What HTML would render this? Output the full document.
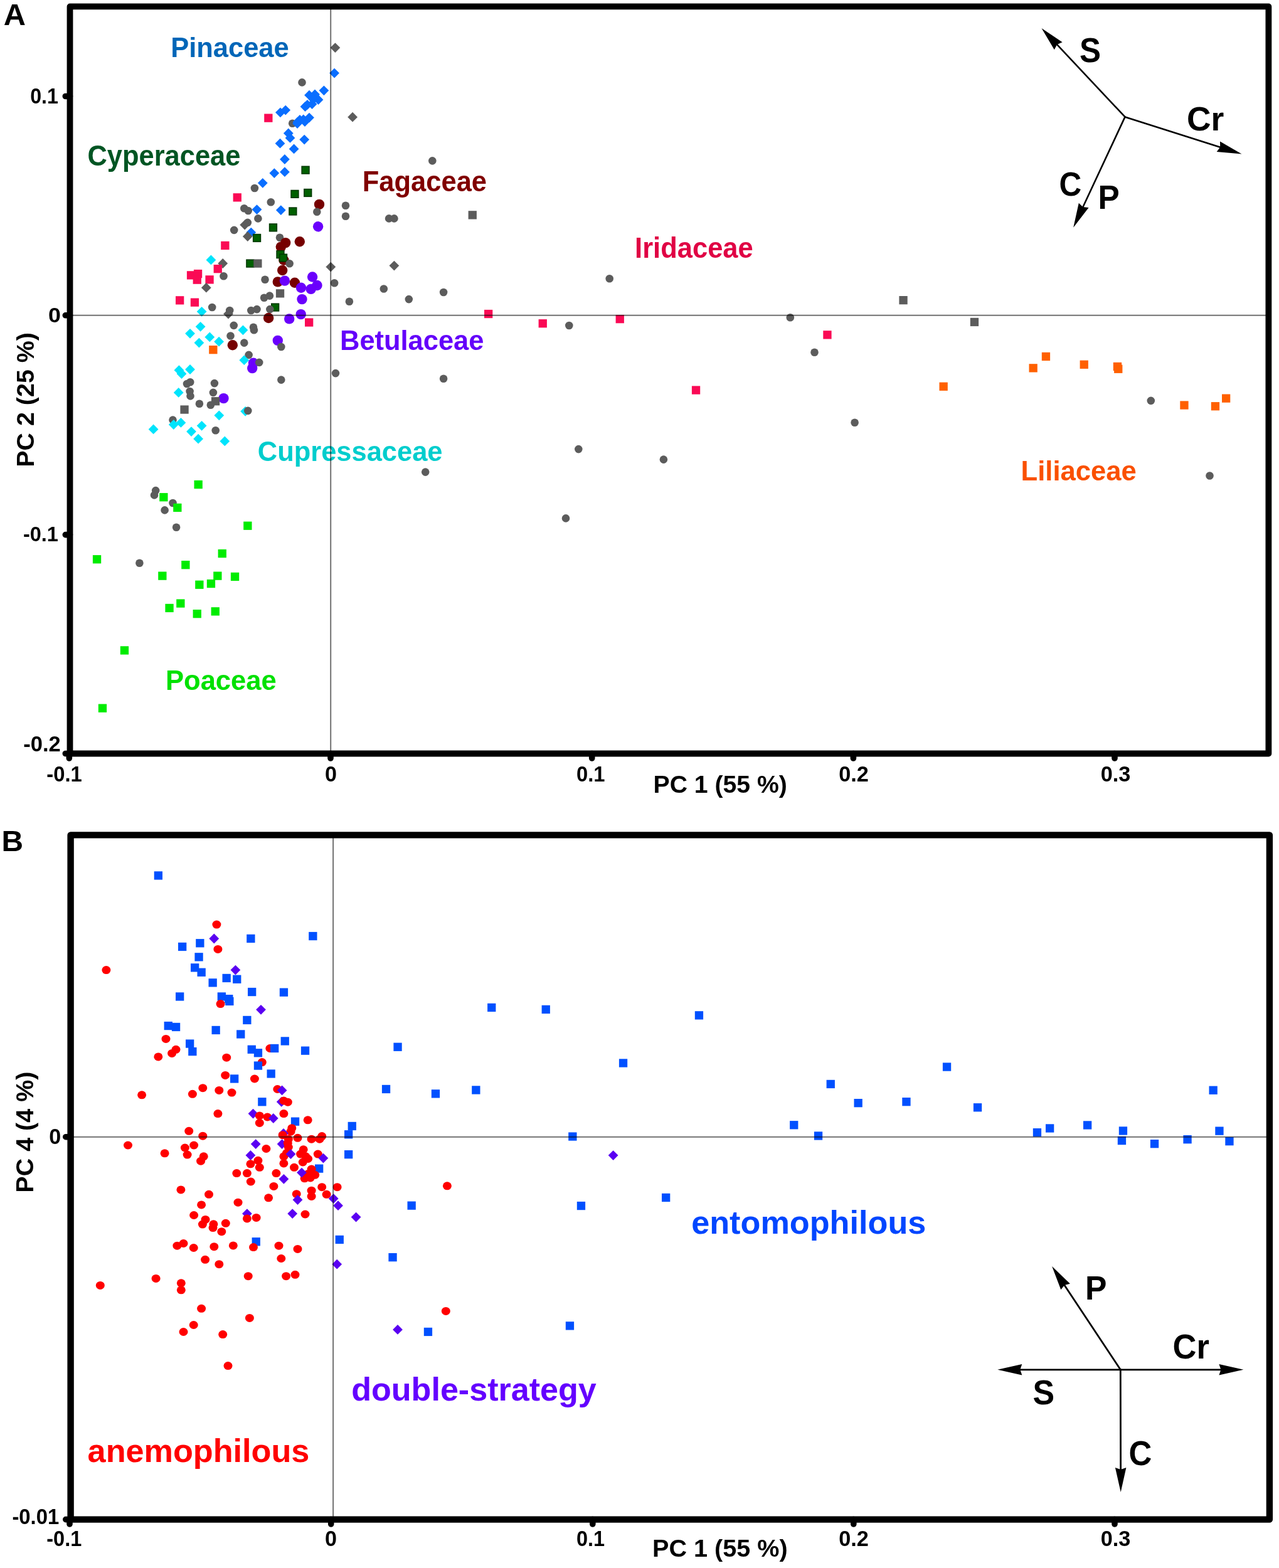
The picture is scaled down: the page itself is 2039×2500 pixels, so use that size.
<!DOCTYPE html>
<html><head><meta charset="utf-8"><title>PCA figure</title>
<style>html,body{margin:0;padding:0;background:#fff;}svg{display:block;}
text{font-family:"Liberation Sans",Arial,sans-serif;font-weight:bold;}</style></head>
<body><svg width="2039" height="2500" viewBox="0 0 2039 2500">
<rect width="2039" height="2500" fill="#fff"/>
<text transform="translate(5.7,39.6) scale(1.0137,1)" font-size="48.15" fill="#000">A</text>
<text transform="translate(2.6,1357.0) scale(1.0157,1)" font-size="47.13" fill="#000">B</text>
<text transform="translate(272.3,90.8) scale(0.9667,1)" font-size="44.95" fill="#0066b8">Pinaceae</text>
<text transform="translate(139.5,263.9) scale(0.9529,1)" font-size="45.59" fill="#005523">Cyperaceae</text>
<text transform="translate(577.8,305.3) scale(0.9494,1)" font-size="45.82" fill="#800000">Fagaceae</text>
<text transform="translate(1012.1,411.2) scale(0.9554,1)" font-size="45.53" fill="#e00044">Iridaceae</text>
<text transform="translate(542.1,557.6) scale(0.9598,1)" font-size="45.24" fill="#6400fa">Betulaceae</text>
<text transform="translate(410.8,735.2) scale(0.9653,1)" font-size="45.02" fill="#00cdcd">Cupressaceae</text>
<text transform="translate(1627.5,765.9) scale(0.9677,1)" font-size="45.09" fill="#fa5000">Liliaceae</text>
<text transform="translate(264.0,1099.6) scale(0.9692,1)" font-size="44.95" fill="#00e100">Poaceae</text>
<text transform="translate(1102.2,1966.5) scale(1.0261,1)" font-size="50.90" fill="#0046ff">entomophilous</text>
<text transform="translate(560.2,2233.2) scale(1.0070,1)" font-size="51.72" fill="#6400ff">double-strategy</text>
<text transform="translate(139.6,2331.0) scale(1.0094,1)" font-size="51.72" fill="#ff0000">anemophilous</text>
<text transform="translate(1721.0,99.0) scale(0.9260,1)" font-size="55.12" fill="#000">S</text>
<text transform="translate(1891.9,208.1) scale(0.9793,1)" font-size="54.56" fill="#000">Cr</text>
<text transform="translate(1688.5,312.3) scale(0.9200,1)" font-size="53.85" fill="#000">C</text>
<text transform="translate(1750.5,333.2) scale(0.9641,1)" font-size="53.24" fill="#000">P</text>
<text transform="translate(1730.0,2071.5) scale(0.9551,1)" font-size="54.11" fill="#000">P</text>
<text transform="translate(1869.6,2165.9) scale(0.9448,1)" font-size="55.55" fill="#000">Cr</text>
<text transform="translate(1646.4,2238.9) scale(0.9436,1)" font-size="54.98" fill="#000">S</text>
<text transform="translate(1799.6,2336.2) scale(0.9200,1)" font-size="55.41" fill="#000">C</text>
<text x="1041.5" y="1263.5" font-size="39.19" fill="#000">PC 1 (55 %)</text>
<text x="1040.1" y="2482.4" font-size="39.59" fill="#000">PC 1 (55 %)</text>
<text transform="translate(53.8,744.7) rotate(-90)" font-size="39.42" fill="#000">PC 2 (25 %)</text>
<text transform="translate(52.9,1901.7) rotate(-90)" font-size="39.50" fill="#000">PC 4 (4 %)</text>
<text transform="translate(48.2,164.7) scale(0.9280,1)" font-size="34.63" fill="#000">0.1</text>
<text transform="translate(77.1,513.8) scale(1.0775,1)" font-size="33.22" fill="#000">0</text>
<text transform="translate(36.9,862.7) scale(0.9583,1)" font-size="33.92" fill="#000">-0.1</text>
<text x="37.3" y="1198.3" font-size="34.49" fill="#000">-0.2</text>
<text transform="translate(74.3,1246.2) scale(0.9200,1)" font-size="35.62" fill="#000">-0.1</text>
<text transform="translate(74.3,2464.9) scale(0.9200,1)" font-size="35.34" fill="#000">-0.1</text>
<text transform="translate(518.1,1246.2) scale(0.9575,1)" font-size="35.62" fill="#000">0</text>
<text transform="translate(518.1,2464.9) scale(0.9652,1)" font-size="35.34" fill="#000">0</text>
<text transform="translate(919.0,1246.2) scale(0.9200,1)" font-size="35.62" fill="#000">0.1</text>
<text transform="translate(919.0,2464.9) scale(0.9200,1)" font-size="35.34" fill="#000">0.1</text>
<text transform="translate(1337.3,1246.2) scale(0.9623,1)" font-size="35.62" fill="#000">0.2</text>
<text transform="translate(1337.3,2464.9) scale(0.9700,1)" font-size="35.34" fill="#000">0.2</text>
<text transform="translate(1754.7,1246.2) scale(0.9663,1)" font-size="35.49" fill="#000">0.3</text>
<text transform="translate(1754.7,2464.9) scale(0.9740,1)" font-size="35.21" fill="#000">0.3</text>
<text transform="translate(78.2,1824.1) scale(0.9730,1)" font-size="35.05" fill="#000">0</text>
<text transform="translate(19.4,2430.1) scale(0.9604,1)" font-size="34.20" fill="#000">-0.01</text>
<line x1="1793.5" y1="186.4" x2="1684.5" y2="70.4" stroke="#000" stroke-width="2.6" stroke-linecap="round"/>
<polygon points="1660.5,44.9 1693.6,67.3 1685.2,71.1 1680.8,79.3" fill="#000"/>
<line x1="1793.5" y1="186.4" x2="1946.1" y2="235.0" stroke="#000" stroke-width="2.6" stroke-linecap="round"/>
<polygon points="1979.5,245.6 1939.7,242.1 1945.2,234.7 1945.0,225.4" fill="#000"/>
<line x1="1793.5" y1="186.4" x2="1726.0" y2="331.0" stroke="#000" stroke-width="2.6" stroke-linecap="round"/>
<polygon points="1711.2,362.7 1719.8,323.7 1726.4,330.1 1735.6,331.1" fill="#000"/>
<line x1="1786.3" y1="2183.8" x2="1696.4" y2="2048.2" stroke="#000" stroke-width="2.8" stroke-linecap="round"/>
<polygon points="1677.1,2019.0 1705.9,2046.7 1697.0,2049.0 1691.3,2056.3" fill="#000"/>
<line x1="1786.3" y1="2183.8" x2="1947.4" y2="2183.8" stroke="#000" stroke-width="2.8" stroke-linecap="round"/>
<polygon points="1982.4,2183.8 1943.4,2192.6 1946.4,2183.8 1943.4,2175.1" fill="#000"/>
<line x1="1786.3" y1="2183.8" x2="1625.3" y2="2183.8" stroke="#000" stroke-width="2.8" stroke-linecap="round"/>
<polygon points="1590.3,2183.8 1629.3,2175.1 1626.3,2183.8 1629.3,2192.6" fill="#000"/>
<line x1="1786.3" y1="2183.8" x2="1786.6" y2="2343.9" stroke="#000" stroke-width="2.8" stroke-linecap="round"/>
<polygon points="1786.7,2378.9 1777.9,2339.9 1786.6,2342.9 1795.4,2339.9" fill="#000"/>
<rect x="371.6" y="308.2" width="13.3" height="13.3" fill="#fa0a55"/>
<polygon points="418.8,283.9 426.7,291.8 418.8,299.7 410.9,291.8" fill="#0a6eff"/>
<circle cx="405.9" cy="300.0" r="6.3" fill="#5c5c5c"/>
<circle cx="389.3" cy="332.3" r="6.3" fill="#5c5c5c"/>
<circle cx="395.7" cy="336.0" r="6.3" fill="#5c5c5c"/>
<polygon points="409.5,326.2 417.4,334.1 409.5,342.0 401.6,334.1" fill="#0a6eff"/>
<polygon points="534.4,68.2 542.3,76.1 534.4,84.0 526.5,76.1" fill="#5c5c5c"/>
<polygon points="533.1,108.7 541.0,116.6 533.1,124.5 525.2,116.6" fill="#0a6eff"/>
<circle cx="481.5" cy="131.4" r="6.3" fill="#5c5c5c"/>
<polygon points="516.4,136.4 524.3,144.3 516.4,152.2 508.5,144.3" fill="#0a6eff"/>
<polygon points="493.0,143.8 500.9,151.7 493.0,159.6 485.1,151.7" fill="#0a6eff"/>
<polygon points="502.0,142.6 509.9,150.5 502.0,158.4 494.1,150.5" fill="#0a6eff"/>
<polygon points="507.5,151.1 515.4,159.0 507.5,166.9 499.6,159.0" fill="#0a6eff"/>
<polygon points="497.5,158.1 505.4,166.0 497.5,173.9 489.6,166.0" fill="#0a6eff"/>
<polygon points="486.5,162.1 494.4,170.0 486.5,177.9 478.6,170.0" fill="#0a6eff"/>
<polygon points="446.9,171.4 454.8,179.3 446.9,187.2 439.0,179.3" fill="#0a6eff"/>
<polygon points="455.2,167.7 463.1,175.6 455.2,183.5 447.3,175.6" fill="#0a6eff"/>
<rect x="421.2" y="181.5" width="13.3" height="13.3" fill="#fa0a55"/>
<polygon points="562.1,178.8 570.0,186.7 562.1,194.6 554.2,186.7" fill="#5c5c5c"/>
<circle cx="466.2" cy="196.8" r="6.3" fill="#5c5c5c"/>
<polygon points="474.5,186.6 482.4,194.5 474.5,202.4 466.6,194.5" fill="#0a6eff"/>
<polygon points="483.7,182.5 491.6,190.4 483.7,198.3 475.8,190.4" fill="#0a6eff"/>
<polygon points="493.0,179.7 500.9,187.6 493.0,195.5 485.1,187.6" fill="#0a6eff"/>
<polygon points="459.8,204.6 467.7,212.5 459.8,220.4 451.9,212.5" fill="#0a6eff"/>
<polygon points="462.5,212.0 470.4,219.9 462.5,227.8 454.6,219.9" fill="#0a6eff"/>
<polygon points="485.2,214.7 493.1,222.6 485.2,230.5 477.3,222.6" fill="#0a6eff"/>
<polygon points="446.5,220.8 454.4,228.7 446.5,236.6 438.6,228.7" fill="#0a6eff"/>
<polygon points="468.6,229.5 476.5,237.4 468.6,245.3 460.7,237.4" fill="#0a6eff"/>
<polygon points="453.9,246.1 461.8,254.0 453.9,261.9 446.0,254.0" fill="#0a6eff"/>
<polygon points="437.3,268.2 445.2,276.1 437.3,284.0 429.4,276.1" fill="#0a6eff"/>
<polygon points="453.9,266.3 461.8,274.2 453.9,282.1 446.0,274.2" fill="#0a6eff"/>
<polygon points="447.8,327.2 455.7,335.1 447.8,343.0 439.9,335.1" fill="#0a6eff"/>
<rect x="481.2" y="265.3" width="11.7" height="11.7" fill="#006000" stroke="#003800" stroke-width="1.6"/>
<rect x="464.1" y="303.5" width="11.7" height="11.7" fill="#006000" stroke="#003800" stroke-width="1.6"/>
<rect x="484.9" y="301.6" width="11.7" height="11.7" fill="#006000" stroke="#003800" stroke-width="1.6"/>
<rect x="461.0" y="331.1" width="11.7" height="11.7" fill="#006000" stroke="#003800" stroke-width="1.6"/>
<circle cx="431.8" cy="322.2" r="6.3" fill="#5c5c5c"/>
<circle cx="509.0" cy="325.9" r="8.2" fill="#760000"/>
<circle cx="505.3" cy="337.8" r="6.3" fill="#5c5c5c"/>
<circle cx="551.0" cy="327.7" r="6.3" fill="#5c5c5c"/>
<circle cx="689.3" cy="256.4" r="6.3" fill="#5c5c5c"/>
<circle cx="411.4" cy="348.4" r="6.3" fill="#5c5c5c"/>
<polygon points="390.2,350.7 398.1,358.6 390.2,366.5 382.3,358.6" fill="#5c5c5c"/>
<circle cx="394.8" cy="354.9" r="6.3" fill="#5c5c5c"/>
<circle cx="373.2" cy="366.9" r="6.3" fill="#5c5c5c"/>
<polygon points="400.3,362.7 408.2,370.6 400.3,378.5 392.4,370.6" fill="#0a6eff"/>
<polygon points="394.8,369.1 402.7,377.0 394.8,384.9 386.9,377.0" fill="#5c5c5c"/>
<rect x="403.7" y="373.6" width="11.7" height="11.7" fill="#006000" stroke="#003800" stroke-width="1.6"/>
<rect x="352.2" y="384.8" width="13.3" height="13.3" fill="#fa0a55"/>
<polygon points="336.4,406.5 344.3,414.4 336.4,422.3 328.5,414.4" fill="#00e4fc"/>
<polygon points="355.2,412.1 363.1,420.0 355.2,427.9 347.3,420.0" fill="#5c5c5c"/>
<rect x="393.0" y="414.2" width="11.7" height="11.7" fill="#006000" stroke="#003800" stroke-width="1.6"/>
<rect x="404.2" y="413.4" width="13.3" height="13.3" fill="#5c5c5c"/>
<rect x="340.6" y="422.0" width="13.3" height="13.3" fill="#fa0a55"/>
<rect x="297.9" y="432.2" width="13.3" height="13.3" fill="#fa0a55"/>
<rect x="308.9" y="429.9" width="13.3" height="13.3" fill="#fa0a55"/>
<rect x="307.6" y="439.5" width="13.3" height="13.3" fill="#fa0a55"/>
<rect x="327.4" y="439.2" width="13.3" height="13.3" fill="#fa0a55"/>
<circle cx="356.5" cy="440.2" r="6.3" fill="#5c5c5c"/>
<polygon points="328.8,450.8 336.7,458.7 328.8,466.6 320.9,458.7" fill="#5c5c5c"/>
<rect x="280.0" y="472.2" width="13.3" height="13.3" fill="#fa0a55"/>
<rect x="303.8" y="475.5" width="13.3" height="13.3" fill="#fa0a55"/>
<circle cx="338.2" cy="490.0" r="6.3" fill="#5c5c5c"/>
<polygon points="321.6,488.9 329.5,496.8 321.6,504.7 313.7,496.8" fill="#00e4fc"/>
<circle cx="366.2" cy="495.0" r="6.3" fill="#5c5c5c"/>
<polygon points="364.0,492.6 371.9,500.5 364.0,508.4 356.1,500.5" fill="#5c5c5c"/>
<circle cx="400.3" cy="495.0" r="6.3" fill="#5c5c5c"/>
<circle cx="409.5" cy="493.1" r="6.3" fill="#5c5c5c"/>
<polygon points="319.6,512.9 327.5,520.8 319.6,528.7 311.7,520.8" fill="#00e4fc"/>
<polygon points="303.0,523.9 310.9,531.8 303.0,539.7 295.1,531.8" fill="#00e4fc"/>
<polygon points="334.3,529.5 342.2,537.4 334.3,545.3 326.4,537.4" fill="#00e4fc"/>
<polygon points="317.4,538.7 325.3,546.6 317.4,554.5 309.5,546.6" fill="#00e4fc"/>
<polygon points="349.1,536.8 357.0,544.7 349.1,552.6 341.2,544.7" fill="#00e4fc"/>
<rect x="333.2" y="551.0" width="13.3" height="13.3" fill="#ff6000"/>
<circle cx="372.7" cy="518.9" r="6.3" fill="#5c5c5c"/>
<circle cx="404.0" cy="521.7" r="6.3" fill="#5c5c5c"/>
<circle cx="404.9" cy="526.3" r="6.3" fill="#5c5c5c"/>
<polygon points="387.4,518.4 395.3,526.3 387.4,534.2 379.5,526.3" fill="#00e4fc"/>
<circle cx="367.5" cy="535.5" r="6.3" fill="#5c5c5c"/>
<circle cx="370.8" cy="550.3" r="8.2" fill="#760000"/>
<circle cx="389.3" cy="546.6" r="6.3" fill="#5c5c5c"/>
<circle cx="396.6" cy="565.9" r="6.3" fill="#5c5c5c"/>
<polygon points="389.3,566.3 397.2,574.2 389.3,582.1 381.4,574.2" fill="#00e4fc"/>
<circle cx="404.0" cy="578.8" r="8.2" fill="#6a00fc"/>
<circle cx="402.2" cy="587.1" r="8.2" fill="#6a00fc"/>
<circle cx="413.2" cy="577.9" r="6.3" fill="#5c5c5c"/>
<polygon points="285.4,582.3 293.3,590.2 285.4,598.1 277.5,590.2" fill="#00e4fc"/>
<polygon points="289.5,588.1 297.4,596.0 289.5,603.9 281.6,596.0" fill="#00e4fc"/>
<polygon points="303.0,581.1 310.9,589.0 303.0,596.9 295.1,589.0" fill="#00e4fc"/>
<circle cx="298.0" cy="612.0" r="6.3" fill="#5c5c5c"/>
<circle cx="303.2" cy="609.3" r="6.3" fill="#5c5c5c"/>
<circle cx="341.9" cy="611.1" r="6.3" fill="#5c5c5c"/>
<polygon points="284.7,618.0 292.6,625.9 284.7,633.8 276.8,625.9" fill="#00e4fc"/>
<circle cx="302.6" cy="624.0" r="6.3" fill="#5c5c5c"/>
<circle cx="303.5" cy="631.4" r="6.3" fill="#5c5c5c"/>
<circle cx="339.9" cy="625.9" r="6.3" fill="#5c5c5c"/>
<circle cx="356.5" cy="635.1" r="8.2" fill="#6a00fc"/>
<rect x="336.9" y="633.1" width="13.3" height="13.3" fill="#5c5c5c"/>
<circle cx="551.0" cy="344.7" r="6.3" fill="#5c5c5c"/>
<circle cx="620.1" cy="348.4" r="6.3" fill="#5c5c5c"/>
<circle cx="628.4" cy="348.4" r="6.3" fill="#5c5c5c"/>
<circle cx="507.1" cy="361.3" r="8.2" fill="#6a00fc"/>
<rect x="429.6" y="357.0" width="11.7" height="11.7" fill="#006000" stroke="#003800" stroke-width="1.6"/>
<circle cx="446.0" cy="378.8" r="6.3" fill="#5c5c5c"/>
<circle cx="455.2" cy="387.1" r="8.2" fill="#760000"/>
<circle cx="447.8" cy="393.6" r="8.2" fill="#760000"/>
<circle cx="477.8" cy="385.3" r="8.2" fill="#760000"/>
<circle cx="452.4" cy="414.8" r="8.2" fill="#760000"/>
<rect x="441.1" y="399.8" width="11.7" height="11.7" fill="#006000" stroke="#003800" stroke-width="1.6"/>
<rect x="445.7" y="405.3" width="11.7" height="11.7" fill="#006000" stroke="#003800" stroke-width="1.6"/>
<circle cx="461.6" cy="420.3" r="6.3" fill="#5c5c5c"/>
<polygon points="527.3,417.7 535.2,425.6 527.3,433.5 519.4,425.6" fill="#5c5c5c"/>
<polygon points="628.4,415.7 636.3,423.6 628.4,431.5 620.5,423.6" fill="#5c5c5c"/>
<circle cx="450.2" cy="431.0" r="8.2" fill="#760000"/>
<circle cx="422.5" cy="445.8" r="6.3" fill="#5c5c5c"/>
<circle cx="442.8" cy="449.4" r="8.2" fill="#760000"/>
<circle cx="453.9" cy="447.6" r="8.2" fill="#6a00fc"/>
<circle cx="469.9" cy="450.7" r="8.2" fill="#760000"/>
<circle cx="498.1" cy="441.5" r="8.2" fill="#6a00fc"/>
<circle cx="505.5" cy="455.0" r="8.2" fill="#6a00fc"/>
<circle cx="495.7" cy="460.9" r="8.2" fill="#6a00fc"/>
<circle cx="480.0" cy="458.7" r="8.2" fill="#6a00fc"/>
<circle cx="533.1" cy="451.3" r="6.3" fill="#5c5c5c"/>
<circle cx="611.8" cy="460.5" r="6.3" fill="#5c5c5c"/>
<circle cx="707.1" cy="466.0" r="6.3" fill="#5c5c5c"/>
<circle cx="651.8" cy="477.1" r="6.3" fill="#5c5c5c"/>
<circle cx="556.9" cy="480.8" r="6.3" fill="#5c5c5c"/>
<rect x="439.9" y="461.2" width="13.3" height="13.3" fill="#5c5c5c"/>
<circle cx="421.1" cy="474.7" r="6.3" fill="#5c5c5c"/>
<circle cx="429.9" cy="471.6" r="6.3" fill="#5c5c5c"/>
<circle cx="481.5" cy="477.1" r="8.2" fill="#6a00fc"/>
<rect x="432.8" y="484.2" width="11.7" height="11.7" fill="#006000" stroke="#003800" stroke-width="1.6"/>
<circle cx="430.3" cy="493.1" r="6.3" fill="#5c5c5c"/>
<circle cx="428.1" cy="507.0" r="8.2" fill="#760000"/>
<circle cx="461.2" cy="508.4" r="8.2" fill="#6a00fc"/>
<circle cx="479.7" cy="501.1" r="8.2" fill="#6a00fc"/>
<rect x="486.0" y="507.4" width="13.3" height="13.3" fill="#fa0a55"/>
<circle cx="442.8" cy="542.9" r="8.2" fill="#6a00fc"/>
<circle cx="448.3" cy="553.0" r="6.3" fill="#5c5c5c"/>
<circle cx="535.0" cy="595.1" r="6.3" fill="#5c5c5c"/>
<circle cx="448.3" cy="605.6" r="6.3" fill="#5c5c5c"/>
<circle cx="707.1" cy="603.7" r="6.3" fill="#5c5c5c"/>
<circle cx="317.9" cy="643.8" r="6.3" fill="#5c5c5c"/>
<circle cx="335.8" cy="645.7" r="6.3" fill="#5c5c5c"/>
<rect x="287.4" y="646.4" width="13.3" height="13.3" fill="#5c5c5c"/>
<polygon points="391.1,647.9 399.0,655.8 391.1,663.7 383.2,655.8" fill="#00e4fc"/>
<circle cx="395.3" cy="654.9" r="6.3" fill="#5c5c5c"/>
<circle cx="275.5" cy="669.6" r="6.3" fill="#5c5c5c"/>
<polygon points="276.8,669.1 284.7,677.0 276.8,684.9 268.9,677.0" fill="#00e4fc"/>
<polygon points="288.4,666.0 296.3,673.9 288.4,681.8 280.5,673.9" fill="#00e4fc"/>
<polygon points="244.6,676.5 252.5,684.4 244.6,692.3 236.7,684.4" fill="#00e4fc"/>
<polygon points="321.6,670.9 329.5,678.8 321.6,686.7 313.7,678.8" fill="#00e4fc"/>
<polygon points="349.3,654.4 357.2,662.3 349.3,670.2 341.4,662.3" fill="#00e4fc"/>
<circle cx="343.7" cy="686.2" r="6.3" fill="#5c5c5c"/>
<polygon points="305.0,680.2 312.9,688.1 305.0,696.0 297.1,688.1" fill="#00e4fc"/>
<polygon points="316.1,691.8 324.0,699.7 316.1,707.6 308.2,699.7" fill="#00e4fc"/>
<polygon points="358.3,695.5 366.2,703.4 358.3,711.3 350.4,703.4" fill="#00e4fc"/>
<rect x="309.5" y="765.9" width="13.3" height="13.3" fill="#00ec00"/>
<circle cx="248.2" cy="782.1" r="6.3" fill="#5c5c5c"/>
<circle cx="246.0" cy="789.4" r="6.3" fill="#5c5c5c"/>
<rect x="254.2" y="786.1" width="13.3" height="13.3" fill="#00ec00"/>
<circle cx="275.5" cy="802.0" r="6.3" fill="#5c5c5c"/>
<rect x="276.2" y="802.8" width="13.3" height="13.3" fill="#00ec00"/>
<circle cx="262.6" cy="813.4" r="6.3" fill="#5c5c5c"/>
<circle cx="281.1" cy="840.7" r="6.3" fill="#5c5c5c"/>
<rect x="388.2" y="831.6" width="13.3" height="13.3" fill="#00ec00"/>
<rect x="147.9" y="885.1" width="13.3" height="13.3" fill="#00ec00"/>
<circle cx="222.4" cy="897.8" r="6.3" fill="#5c5c5c"/>
<rect x="347.6" y="875.9" width="13.3" height="13.3" fill="#00ec00"/>
<rect x="289.2" y="894.0" width="13.3" height="13.3" fill="#00ec00"/>
<rect x="252.2" y="911.5" width="13.3" height="13.3" fill="#00ec00"/>
<rect x="340.2" y="911.5" width="13.3" height="13.3" fill="#00ec00"/>
<rect x="367.9" y="912.8" width="13.3" height="13.3" fill="#00ec00"/>
<rect x="311.2" y="925.6" width="13.3" height="13.3" fill="#00ec00"/>
<rect x="329.8" y="923.9" width="13.3" height="13.3" fill="#00ec00"/>
<circle cx="678.2" cy="752.6" r="6.3" fill="#5c5c5c"/>
<rect x="263.4" y="962.8" width="13.3" height="13.3" fill="#00ec00"/>
<rect x="281.2" y="955.4" width="13.3" height="13.3" fill="#00ec00"/>
<rect x="307.6" y="972.0" width="13.3" height="13.3" fill="#00ec00"/>
<rect x="336.6" y="968.2" width="13.3" height="13.3" fill="#00ec00"/>
<rect x="191.8" y="1030.3" width="13.3" height="13.3" fill="#00ec00"/>
<rect x="156.8" y="1122.5" width="13.3" height="13.3" fill="#00ec00"/>
<rect x="746.6" y="336.2" width="13.3" height="13.3" fill="#5c5c5c"/>
<circle cx="971.7" cy="444.3" r="6.3" fill="#5c5c5c"/>
<rect x="772.0" y="493.9" width="13.3" height="13.3" fill="#fa0a55"/>
<rect x="858.6" y="509.1" width="13.3" height="13.3" fill="#fa0a55"/>
<circle cx="907.3" cy="519.0" r="6.3" fill="#5c5c5c"/>
<rect x="981.6" y="502.0" width="13.3" height="13.3" fill="#fa0a55"/>
<rect x="1433.4" y="472.0" width="13.3" height="13.3" fill="#5c5c5c"/>
<circle cx="1259.8" cy="506.3" r="6.3" fill="#5c5c5c"/>
<rect x="1546.8" y="506.8" width="13.3" height="13.3" fill="#5c5c5c"/>
<rect x="1312.3" y="527.2" width="13.3" height="13.3" fill="#fa0a55"/>
<circle cx="1298.5" cy="561.8" r="6.3" fill="#5c5c5c"/>
<rect x="1102.9" y="615.4" width="13.3" height="13.3" fill="#fa0a55"/>
<rect x="1497.5" y="609.6" width="13.3" height="13.3" fill="#ff6000"/>
<circle cx="1362.6" cy="673.8" r="6.3" fill="#5c5c5c"/>
<rect x="1640.5" y="580.2" width="13.3" height="13.3" fill="#ff6000"/>
<rect x="1660.8" y="561.8" width="13.3" height="13.3" fill="#ff6000"/>
<rect x="1721.6" y="574.6" width="13.3" height="13.3" fill="#ff6000"/>
<rect x="1774.8" y="577.8" width="13.3" height="13.3" fill="#ff6000"/>
<rect x="1776.1" y="581.6" width="13.3" height="13.3" fill="#ff6000"/>
<circle cx="1834.8" cy="638.9" r="6.3" fill="#5c5c5c"/>
<rect x="1881.3" y="639.4" width="13.3" height="13.3" fill="#ff6000"/>
<rect x="1930.8" y="641.1" width="13.3" height="13.3" fill="#ff6000"/>
<rect x="1948.0" y="628.5" width="13.3" height="13.3" fill="#ff6000"/>
<circle cx="1928.5" cy="758.5" r="6.3" fill="#5c5c5c"/>
<circle cx="922.3" cy="716.1" r="6.3" fill="#5c5c5c"/>
<circle cx="1057.9" cy="732.6" r="6.3" fill="#5c5c5c"/>
<circle cx="902.0" cy="826.4" r="6.3" fill="#5c5c5c"/>
<polygon points="499.5,150.6 507.4,158.5 499.5,166.4 491.6,158.5" fill="#0a6eff"/>
<polygon points="490.0,159.1 497.9,167.0 490.0,174.9 482.1,167.0" fill="#0a6eff"/>
<polygon points="478.0,183.1 485.9,191.0 478.0,198.9 470.1,191.0" fill="#0a6eff"/>
<polygon points="486.0,186.1 493.9,194.0 486.0,201.9 478.1,194.0" fill="#0a6eff"/>
<polygon points="474.0,189.1 481.9,197.0 474.0,204.9 466.1,197.0" fill="#0a6eff"/>
<rect x="245.7" y="1389.3" width="13.3" height="13.3" fill="#0050ff"/>
<ellipse cx="345.4" cy="1474.1" rx="7" ry="6.5" fill="#ff0000"/>
<polygon points="341.3,1488.6 349.2,1496.5 341.3,1504.4 333.4,1496.5" fill="#5a00f2"/>
<rect x="393.2" y="1489.8" width="13.3" height="13.3" fill="#0050ff"/>
<rect x="312.2" y="1497.1" width="13.3" height="13.3" fill="#0050ff"/>
<rect x="284.0" y="1502.8" width="13.3" height="13.3" fill="#0050ff"/>
<ellipse cx="347.4" cy="1513.4" rx="7" ry="6.5" fill="#ff0000"/>
<rect x="310.4" y="1519.2" width="13.3" height="13.3" fill="#0050ff"/>
<rect x="304.0" y="1536.2" width="13.3" height="13.3" fill="#0050ff"/>
<rect x="314.5" y="1543.6" width="13.3" height="13.3" fill="#0050ff"/>
<ellipse cx="169.4" cy="1546.6" rx="7" ry="6.5" fill="#ff0000"/>
<polygon points="375.4,1538.7 383.3,1546.6 375.4,1554.5 367.5,1546.6" fill="#5a00f2"/>
<rect x="354.5" y="1552.8" width="13.3" height="13.3" fill="#0050ff"/>
<rect x="371.1" y="1554.6" width="13.3" height="13.3" fill="#0050ff"/>
<rect x="332.5" y="1560.2" width="13.3" height="13.3" fill="#0050ff"/>
<rect x="395.0" y="1574.9" width="13.3" height="13.3" fill="#0050ff"/>
<rect x="280.0" y="1582.3" width="13.3" height="13.3" fill="#0050ff"/>
<rect x="346.7" y="1582.3" width="13.3" height="13.3" fill="#0050ff"/>
<rect x="358.1" y="1586.0" width="13.3" height="13.3" fill="#0050ff"/>
<rect x="359.2" y="1589.8" width="13.3" height="13.3" fill="#0050ff"/>
<ellipse cx="351.5" cy="1600.6" rx="7" ry="6.5" fill="#ff0000"/>
<polygon points="416.0,1601.9 423.9,1609.8 416.0,1617.7 408.1,1609.8" fill="#5a00f2"/>
<rect x="387.2" y="1619.8" width="13.3" height="13.3" fill="#0050ff"/>
<rect x="261.6" y="1628.9" width="13.3" height="13.3" fill="#0050ff"/>
<rect x="273.9" y="1630.8" width="13.3" height="13.3" fill="#0050ff"/>
<rect x="492.2" y="1485.9" width="13.3" height="13.3" fill="#0050ff"/>
<rect x="445.8" y="1575.5" width="13.3" height="13.3" fill="#0050ff"/>
<rect x="337.5" y="1635.8" width="13.3" height="13.3" fill="#0050ff"/>
<rect x="377.1" y="1642.3" width="13.3" height="13.3" fill="#0050ff"/>
<ellipse cx="264.5" cy="1656.4" rx="7" ry="6.5" fill="#ff0000"/>
<ellipse cx="280.5" cy="1673.3" rx="7" ry="6.5" fill="#ff0000"/>
<ellipse cx="274.1" cy="1679.4" rx="7" ry="6.5" fill="#ff0000"/>
<ellipse cx="252.3" cy="1684.9" rx="7" ry="6.5" fill="#ff0000"/>
<rect x="296.0" y="1657.4" width="13.3" height="13.3" fill="#0050ff"/>
<rect x="300.2" y="1669.9" width="13.3" height="13.3" fill="#0050ff"/>
<ellipse cx="361.2" cy="1686.2" rx="7" ry="6.5" fill="#ff0000"/>
<rect x="394.6" y="1666.6" width="13.3" height="13.3" fill="#0050ff"/>
<rect x="404.8" y="1672.1" width="13.3" height="13.3" fill="#0050ff"/>
<ellipse cx="417.8" cy="1693.6" rx="7" ry="6.5" fill="#ff0000"/>
<rect x="404.8" y="1692.4" width="13.3" height="13.3" fill="#0050ff"/>
<ellipse cx="359.2" cy="1714.4" rx="7" ry="6.5" fill="#ff0000"/>
<rect x="367.0" y="1713.3" width="13.3" height="13.3" fill="#0050ff"/>
<ellipse cx="405.9" cy="1720.0" rx="7" ry="6.5" fill="#ff0000"/>
<ellipse cx="323.3" cy="1734.7" rx="7" ry="6.5" fill="#ff0000"/>
<ellipse cx="306.9" cy="1744.3" rx="7" ry="6.5" fill="#ff0000"/>
<ellipse cx="349.3" cy="1738.4" rx="7" ry="6.5" fill="#ff0000"/>
<ellipse cx="369.5" cy="1742.1" rx="7" ry="6.5" fill="#ff0000"/>
<ellipse cx="226.1" cy="1745.8" rx="7" ry="6.5" fill="#ff0000"/>
<rect x="411.2" y="1750.1" width="13.3" height="13.3" fill="#0050ff"/>
<ellipse cx="347.4" cy="1775.6" rx="7" ry="6.5" fill="#ff0000"/>
<polygon points="403.5,1767.7 411.4,1775.6 403.5,1783.5 395.6,1775.6" fill="#5a00f2"/>
<ellipse cx="413.8" cy="1778.9" rx="7" ry="6.5" fill="#ff0000"/>
<ellipse cx="413.8" cy="1790.4" rx="7" ry="6.5" fill="#ff0000"/>
<ellipse cx="301.2" cy="1803.3" rx="7" ry="6.5" fill="#ff0000"/>
<ellipse cx="323.3" cy="1811.2" rx="7" ry="6.5" fill="#ff0000"/>
<ellipse cx="204.0" cy="1826.0" rx="7" ry="6.5" fill="#ff0000"/>
<ellipse cx="262.6" cy="1838.8" rx="7" ry="6.5" fill="#ff0000"/>
<ellipse cx="294.9" cy="1830.0" rx="7" ry="6.5" fill="#ff0000"/>
<ellipse cx="309.1" cy="1826.0" rx="7" ry="6.5" fill="#ff0000"/>
<ellipse cx="298.6" cy="1841.1" rx="7" ry="6.5" fill="#ff0000"/>
<ellipse cx="324.7" cy="1843.8" rx="7" ry="6.5" fill="#ff0000"/>
<ellipse cx="320.1" cy="1851.2" rx="7" ry="6.5" fill="#ff0000"/>
<polygon points="407.7,1816.2 415.6,1824.1 407.7,1832.0 399.8,1824.1" fill="#5a00f2"/>
<polygon points="399.4,1834.1 407.3,1842.0 399.4,1849.9 391.5,1842.0" fill="#5a00f2"/>
<ellipse cx="411.4" cy="1850.3" rx="7" ry="6.5" fill="#ff0000"/>
<ellipse cx="399.4" cy="1855.8" rx="7" ry="6.5" fill="#ff0000"/>
<ellipse cx="413.8" cy="1861.3" rx="7" ry="6.5" fill="#ff0000"/>
<ellipse cx="377.3" cy="1870.6" rx="7" ry="6.5" fill="#ff0000"/>
<ellipse cx="393.9" cy="1870.6" rx="7" ry="6.5" fill="#ff0000"/>
<ellipse cx="399.8" cy="1884.0" rx="7" ry="6.5" fill="#ff0000"/>
<ellipse cx="288.4" cy="1896.9" rx="7" ry="6.5" fill="#ff0000"/>
<ellipse cx="333.0" cy="1904.3" rx="7" ry="6.5" fill="#ff0000"/>
<ellipse cx="321.1" cy="1920.9" rx="7" ry="6.5" fill="#ff0000"/>
<ellipse cx="379.5" cy="1917.2" rx="7" ry="6.5" fill="#ff0000"/>
<ellipse cx="309.1" cy="1937.5" rx="7" ry="6.5" fill="#ff0000"/>
<polygon points="393.9,1927.2 401.8,1935.1 393.9,1943.0 386.0,1935.1" fill="#5a00f2"/>
<rect x="447.6" y="1653.3" width="13.3" height="13.3" fill="#0050ff"/>
<ellipse cx="430.3" cy="1671.5" rx="7" ry="6.5" fill="#ff0000"/>
<rect x="431.0" y="1664.8" width="13.3" height="13.3" fill="#0050ff"/>
<rect x="479.9" y="1668.5" width="13.3" height="13.3" fill="#0050ff"/>
<rect x="425.5" y="1705.3" width="13.3" height="13.3" fill="#0050ff"/>
<rect x="627.4" y="1662.6" width="13.3" height="13.3" fill="#0050ff"/>
<rect x="608.9" y="1729.8" width="13.3" height="13.3" fill="#0050ff"/>
<rect x="687.8" y="1737.2" width="13.3" height="13.3" fill="#0050ff"/>
<ellipse cx="442.3" cy="1736.5" rx="7" ry="6.5" fill="#ff0000"/>
<polygon points="449.6,1730.5 457.5,1738.4 449.6,1746.3 441.7,1738.4" fill="#5a00f2"/>
<polygon points="448.7,1748.9 456.6,1756.8 448.7,1764.7 440.8,1756.8" fill="#5a00f2"/>
<ellipse cx="452.4" cy="1755.0" rx="7" ry="6.5" fill="#ff0000"/>
<ellipse cx="458.8" cy="1757.2" rx="7" ry="6.5" fill="#ff0000"/>
<ellipse cx="452.4" cy="1775.6" rx="7" ry="6.5" fill="#ff0000"/>
<ellipse cx="426.3" cy="1781.0" rx="7" ry="6.5" fill="#ff0000"/>
<polygon points="435.8,1775.1 443.7,1783.0 435.8,1790.9 427.9,1783.0" fill="#5a00f2"/>
<rect x="463.9" y="1781.5" width="13.3" height="13.3" fill="#0050ff"/>
<ellipse cx="490.7" cy="1785.8" rx="7" ry="6.5" fill="#ff0000"/>
<ellipse cx="465.3" cy="1798.7" rx="7" ry="6.5" fill="#ff0000"/>
<ellipse cx="463.5" cy="1804.2" rx="7" ry="6.5" fill="#ff0000"/>
<polygon points="452.0,1799.1 459.9,1807.0 452.0,1814.9 444.1,1807.0" fill="#5a00f2"/>
<ellipse cx="450.6" cy="1809.7" rx="7" ry="6.5" fill="#ff0000"/>
<ellipse cx="459.8" cy="1816.2" rx="7" ry="6.5" fill="#ff0000"/>
<ellipse cx="474.5" cy="1814.3" rx="7" ry="6.5" fill="#ff0000"/>
<ellipse cx="496.6" cy="1816.2" rx="7" ry="6.5" fill="#ff0000"/>
<ellipse cx="509.5" cy="1816.2" rx="7" ry="6.5" fill="#ff0000"/>
<ellipse cx="513.2" cy="1811.6" rx="7" ry="6.5" fill="#ff0000"/>
<rect x="554.6" y="1788.8" width="13.3" height="13.3" fill="#0050ff"/>
<rect x="549.0" y="1802.1" width="13.3" height="13.3" fill="#0050ff"/>
<rect x="549.0" y="1834.0" width="13.3" height="13.3" fill="#0050ff"/>
<ellipse cx="424.4" cy="1831.5" rx="7" ry="6.5" fill="#ff0000"/>
<polygon points="449.6,1816.2 457.5,1824.1 449.6,1832.0 441.7,1824.1" fill="#5a00f2"/>
<ellipse cx="458.8" cy="1822.6" rx="7" ry="6.5" fill="#ff0000"/>
<ellipse cx="459.8" cy="1829.1" rx="7" ry="6.5" fill="#ff0000"/>
<ellipse cx="457.0" cy="1838.3" rx="7" ry="6.5" fill="#ff0000"/>
<ellipse cx="452.4" cy="1843.8" rx="7" ry="6.5" fill="#ff0000"/>
<polygon points="463.5,1832.2 471.4,1840.1 463.5,1848.0 455.6,1840.1" fill="#5a00f2"/>
<ellipse cx="483.7" cy="1832.8" rx="7" ry="6.5" fill="#ff0000"/>
<ellipse cx="479.1" cy="1840.1" rx="7" ry="6.5" fill="#ff0000"/>
<ellipse cx="487.4" cy="1843.8" rx="7" ry="6.5" fill="#ff0000"/>
<ellipse cx="491.1" cy="1847.5" rx="7" ry="6.5" fill="#ff0000"/>
<ellipse cx="506.8" cy="1840.1" rx="7" ry="6.5" fill="#ff0000"/>
<polygon points="515.4,1838.7 523.3,1846.6 515.4,1854.5 507.5,1846.6" fill="#5a00f2"/>
<ellipse cx="452.4" cy="1854.9" rx="7" ry="6.5" fill="#ff0000"/>
<ellipse cx="482.8" cy="1853.0" rx="7" ry="6.5" fill="#ff0000"/>
<ellipse cx="469.0" cy="1861.3" rx="7" ry="6.5" fill="#ff0000"/>
<rect x="502.0" y="1856.5" width="13.3" height="13.3" fill="#0050ff"/>
<ellipse cx="496.6" cy="1864.1" rx="7" ry="6.5" fill="#ff0000"/>
<ellipse cx="491.1" cy="1871.5" rx="7" ry="6.5" fill="#ff0000"/>
<ellipse cx="502.2" cy="1873.3" rx="7" ry="6.5" fill="#ff0000"/>
<ellipse cx="485.6" cy="1878.8" rx="7" ry="6.5" fill="#ff0000"/>
<ellipse cx="494.8" cy="1877.9" rx="7" ry="6.5" fill="#ff0000"/>
<polygon points="481.0,1861.7 488.9,1869.6 481.0,1877.5 473.1,1869.6" fill="#5a00f2"/>
<ellipse cx="440.4" cy="1870.6" rx="7" ry="6.5" fill="#ff0000"/>
<polygon points="452.4,1871.9 460.3,1879.8 452.4,1887.7 444.5,1879.8" fill="#5a00f2"/>
<ellipse cx="436.4" cy="1891.4" rx="7" ry="6.5" fill="#ff0000"/>
<ellipse cx="513.2" cy="1892.7" rx="7" ry="6.5" fill="#ff0000"/>
<ellipse cx="537.6" cy="1892.7" rx="7" ry="6.5" fill="#ff0000"/>
<ellipse cx="496.6" cy="1898.2" rx="7" ry="6.5" fill="#ff0000"/>
<ellipse cx="496.6" cy="1907.4" rx="7" ry="6.5" fill="#ff0000"/>
<ellipse cx="472.7" cy="1903.7" rx="7" ry="6.5" fill="#ff0000"/>
<ellipse cx="520.6" cy="1904.3" rx="7" ry="6.5" fill="#ff0000"/>
<ellipse cx="428.1" cy="1909.8" rx="7" ry="6.5" fill="#ff0000"/>
<polygon points="474.5,1905.1 482.4,1913.0 474.5,1920.9 466.6,1913.0" fill="#5a00f2"/>
<polygon points="531.7,1903.2 539.6,1911.1 531.7,1919.0 523.8,1911.1" fill="#5a00f2"/>
<polygon points="539.0,1914.3 546.9,1922.2 539.0,1930.1 531.1,1922.2" fill="#5a00f2"/>
<rect x="649.5" y="1915.5" width="13.3" height="13.3" fill="#0050ff"/>
<ellipse cx="712.9" cy="1890.8" rx="7" ry="6.5" fill="#ff0000"/>
<polygon points="466.2,1927.2 474.1,1935.1 466.2,1943.0 458.3,1935.1" fill="#5a00f2"/>
<ellipse cx="486.5" cy="1936.0" rx="7" ry="6.5" fill="#ff0000"/>
<polygon points="567.6,1932.7 575.5,1940.6 567.6,1948.5 559.7,1940.6" fill="#5a00f2"/>
<ellipse cx="393.9" cy="1942.9" rx="7" ry="6.5" fill="#ff0000"/>
<ellipse cx="408.6" cy="1941.4" rx="7" ry="6.5" fill="#ff0000"/>
<ellipse cx="327.5" cy="1944.4" rx="7" ry="6.5" fill="#ff0000"/>
<ellipse cx="322.9" cy="1952.1" rx="7" ry="6.5" fill="#ff0000"/>
<ellipse cx="340.4" cy="1951.8" rx="7" ry="6.5" fill="#ff0000"/>
<ellipse cx="339.5" cy="1957.6" rx="7" ry="6.5" fill="#ff0000"/>
<ellipse cx="359.8" cy="1950.3" rx="7" ry="6.5" fill="#ff0000"/>
<ellipse cx="353.3" cy="1963.7" rx="7" ry="6.5" fill="#ff0000"/>
<rect x="401.6" y="1973.1" width="13.3" height="13.3" fill="#0050ff"/>
<ellipse cx="404.0" cy="1988.6" rx="7" ry="6.5" fill="#ff0000"/>
<ellipse cx="282.4" cy="1986.2" rx="7" ry="6.5" fill="#ff0000"/>
<ellipse cx="292.5" cy="1982.5" rx="7" ry="6.5" fill="#ff0000"/>
<ellipse cx="308.7" cy="1989.5" rx="7" ry="6.5" fill="#ff0000"/>
<ellipse cx="341.3" cy="1987.7" rx="7" ry="6.5" fill="#ff0000"/>
<ellipse cx="371.8" cy="1985.9" rx="7" ry="6.5" fill="#ff0000"/>
<ellipse cx="327.1" cy="2008.3" rx="7" ry="6.5" fill="#ff0000"/>
<ellipse cx="349.3" cy="2015.7" rx="7" ry="6.5" fill="#ff0000"/>
<ellipse cx="395.7" cy="2034.7" rx="7" ry="6.5" fill="#ff0000"/>
<ellipse cx="248.6" cy="2038.4" rx="7" ry="6.5" fill="#ff0000"/>
<ellipse cx="159.8" cy="2049.4" rx="7" ry="6.5" fill="#ff0000"/>
<ellipse cx="288.8" cy="2045.8" rx="7" ry="6.5" fill="#ff0000"/>
<ellipse cx="288.8" cy="2056.8" rx="7" ry="6.5" fill="#ff0000"/>
<ellipse cx="321.1" cy="2086.3" rx="7" ry="6.5" fill="#ff0000"/>
<ellipse cx="397.9" cy="2101.4" rx="7" ry="6.5" fill="#ff0000"/>
<ellipse cx="308.7" cy="2112.5" rx="7" ry="6.5" fill="#ff0000"/>
<ellipse cx="292.5" cy="2123.5" rx="7" ry="6.5" fill="#ff0000"/>
<ellipse cx="355.2" cy="2127.6" rx="7" ry="6.5" fill="#ff0000"/>
<ellipse cx="363.5" cy="2177.6" rx="7" ry="6.5" fill="#ff0000"/>
<rect x="534.6" y="1969.8" width="13.3" height="13.3" fill="#0050ff"/>
<ellipse cx="444.5" cy="1986.2" rx="7" ry="6.5" fill="#ff0000"/>
<ellipse cx="474.5" cy="1991.4" rx="7" ry="6.5" fill="#ff0000"/>
<ellipse cx="448.3" cy="2006.5" rx="7" ry="6.5" fill="#ff0000"/>
<polygon points="537.2,2007.8 545.1,2015.7 537.2,2023.6 529.3,2015.7" fill="#5a00f2"/>
<rect x="619.4" y="1998.0" width="13.3" height="13.3" fill="#0050ff"/>
<ellipse cx="456.1" cy="2034.7" rx="7" ry="6.5" fill="#ff0000"/>
<ellipse cx="470.5" cy="2032.3" rx="7" ry="6.5" fill="#ff0000"/>
<ellipse cx="710.8" cy="2090.4" rx="7" ry="6.5" fill="#ff0000"/>
<polygon points="634.0,2112.0 641.9,2119.9 634.0,2127.8 626.1,2119.9" fill="#5a00f2"/>
<rect x="675.8" y="2116.8" width="13.3" height="13.3" fill="#0050ff"/>
<rect x="777.1" y="1599.8" width="13.3" height="13.3" fill="#0050ff"/>
<rect x="863.6" y="1602.8" width="13.3" height="13.3" fill="#0050ff"/>
<rect x="1107.8" y="1612.2" width="13.3" height="13.3" fill="#0050ff"/>
<rect x="986.9" y="1688.3" width="13.3" height="13.3" fill="#0050ff"/>
<rect x="752.2" y="1731.3" width="13.3" height="13.3" fill="#0050ff"/>
<rect x="1317.6" y="1721.8" width="13.3" height="13.3" fill="#0050ff"/>
<rect x="1259.1" y="1787.1" width="13.3" height="13.3" fill="#0050ff"/>
<rect x="1297.9" y="1804.3" width="13.3" height="13.3" fill="#0050ff"/>
<rect x="906.2" y="1805.4" width="13.3" height="13.3" fill="#0050ff"/>
<polygon points="977.6,1834.2 985.5,1842.1 977.6,1850.0 969.7,1842.1" fill="#5a00f2"/>
<rect x="1361.5" y="1752.0" width="13.3" height="13.3" fill="#0050ff"/>
<rect x="1438.3" y="1750.0" width="13.3" height="13.3" fill="#0050ff"/>
<rect x="1502.9" y="1694.4" width="13.3" height="13.3" fill="#0050ff"/>
<rect x="1551.9" y="1759.1" width="13.3" height="13.3" fill="#0050ff"/>
<rect x="1646.8" y="1799.0" width="13.3" height="13.3" fill="#0050ff"/>
<rect x="1667.0" y="1792.3" width="13.3" height="13.3" fill="#0050ff"/>
<rect x="1727.0" y="1787.3" width="13.3" height="13.3" fill="#0050ff"/>
<rect x="1783.8" y="1796.3" width="13.3" height="13.3" fill="#0050ff"/>
<rect x="1781.8" y="1811.9" width="13.3" height="13.3" fill="#0050ff"/>
<rect x="1833.9" y="1817.0" width="13.3" height="13.3" fill="#0050ff"/>
<rect x="1886.4" y="1810.0" width="13.3" height="13.3" fill="#0050ff"/>
<rect x="1927.5" y="1731.6" width="13.3" height="13.3" fill="#0050ff"/>
<rect x="1937.3" y="1796.5" width="13.3" height="13.3" fill="#0050ff"/>
<rect x="1953.3" y="1813.0" width="13.3" height="13.3" fill="#0050ff"/>
<rect x="919.8" y="1915.9" width="13.3" height="13.3" fill="#0050ff"/>
<rect x="1055.0" y="1902.8" width="13.3" height="13.3" fill="#0050ff"/>
<rect x="901.8" y="2107.2" width="13.3" height="13.3" fill="#0050ff"/>
<line x1="527.2" y1="15" x2="527.2" y2="1197" stroke="#000" stroke-opacity="0.56" stroke-width="2"/>
<line x1="116" y1="502.8" x2="2018" y2="502.8" stroke="#000" stroke-opacity="0.56" stroke-width="2"/>
<line x1="531.1" y1="1336" x2="531.1" y2="2418" stroke="#000" stroke-opacity="0.56" stroke-width="2"/>
<line x1="117" y1="1812.7" x2="2019" y2="1812.7" stroke="#000" stroke-opacity="0.56" stroke-width="2"/>
<rect x="111.5" y="10.4" width="1910.9" height="1191.1" fill="none" stroke="#000" stroke-width="9.8" stroke-linejoin="round"/>
<rect x="112.6" y="1331.4" width="1911.3" height="1091.2" fill="none" stroke="#000" stroke-width="10.4" stroke-linejoin="round"/>
<path d="M111.5 153.5H104.3 M111.5 502.8H104.3 M111.5 852.6H104.3 M111.5 1201.5H104.3 M110.3 1201.5V1209 M527.0 1201.5V1209 M943.7 1201.5V1209 M1360.4 1201.5V1209 M1777.0 1201.5V1209 M112.6 1812.7H104.8 M112.6 2422.6H104.8 M111.0 2422.6V2430 M527.7 2422.6V2430 M944.8 2422.6V2430 M1360.8 2422.6V2430 M1777.0 2422.6V2430" stroke="#000" stroke-width="9.6" stroke-linecap="round" fill="none"/>
</svg></body></html>
